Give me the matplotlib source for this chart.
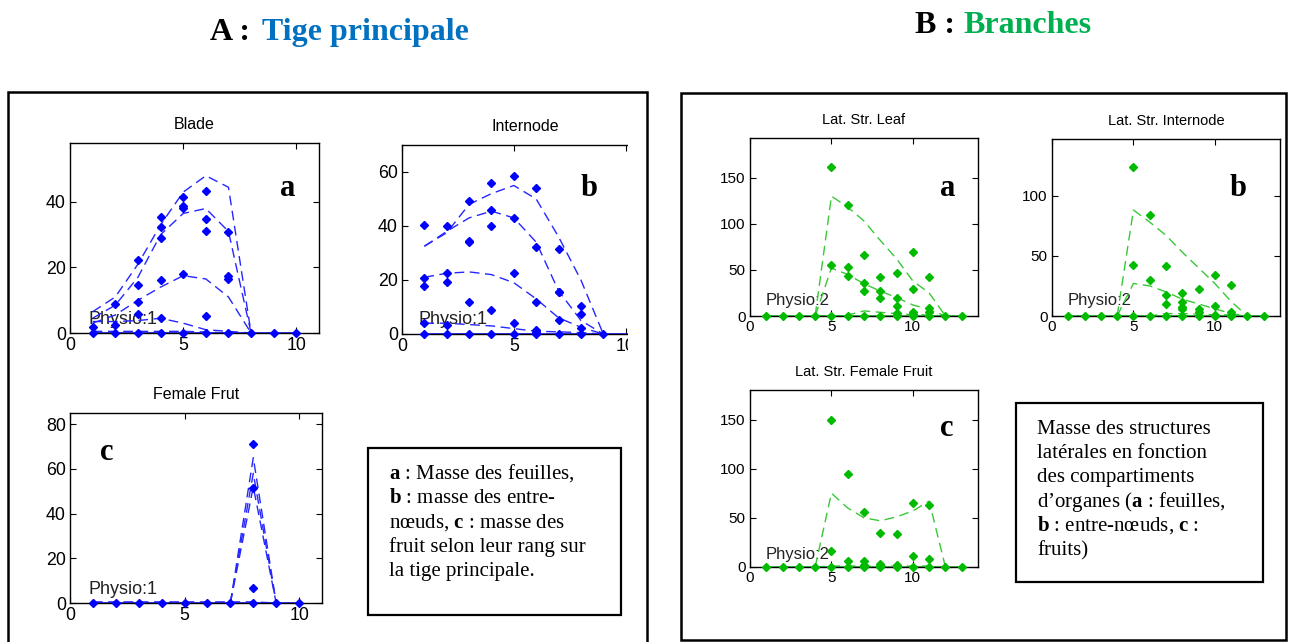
import matplotlib
matplotlib.use("Agg")
import matplotlib.pyplot as plt
from matplotlib.patches import Rectangle

plt.rcParams["font.family"] = ["Liberation Sans", "DejaVu Sans"]
plt.rcParams["mathtext.fontset"] = "custom"
plt.rcParams["mathtext.rm"] = "Liberation Serif"
plt.rcParams["mathtext.bf"] = "Liberation Serif:bold"

# ---- A : main stem (observed masses per rank, fitted curves) ----
blade_obs = [[1.8, 0], [9, 2.5, 0], [22.4, 14.6, 9.4, 5.9, 0], [35.3, 32.4, 29, 16.3, 4.7, 0],
             [41.4, 38.7, 38.2, 18, 0], [43.5, 34.8, 31, 5.1, 0], [30.7, 17.3, 16.6, 0],
             [0], [0], [0]]
blade_fit_ranks = [1, 2, 3, 4, 5, 6, 7, 8]
blade_fit = [[6.5, 11, 21, 33, 43, 48, 44.5, 0],
             [4.5, 8.5, 17, 30, 36.5, 38, 31, 0],
             [3, 5.5, 10, 14, 17.5, 16.5, 11, 0],
             [3.5, 3.5, 3.8, 4.5, 3, 1, 0.5, 0],
             [0.5, 0.5, 0.5, 0.5, 0.5, 0.3, 0, 0]]

inter_obs = [[40.5, 20.7, 17.6, 4, 0], [40.1, 22.5, 19.1, 3.3, 0], [49.2, 34.6, 34, 11.9, 0],
             [55.8, 45.8, 40.1, 8.9, 0], [58.7, 43.1, 22.5, 4, 0], [54.1, 32.2, 12, 1.5, 0.9, 0],
             [31.5, 15.7, 15.4, 5, 0], [10.4, 7.4, 2.1, 0], [0]]
inter_fit_ranks = [1, 2, 3, 4, 5, 6, 7, 8, 9]
inter_fit = [[32.5, 37.5, 48, 52, 55, 50, 36, 20, 0],
             [32.5, 38, 43, 45.5, 43, 34, 16, 5, 0],
             [21, 22.5, 23, 22, 19, 13, 6, 2.5, 0],
             [4, 4, 3.5, 3, 2, 1, 0.8, 0.5, 0]]

fruit_obs = [[0], [0], [0], [0], [0], [0], [0], [71, 51.5, 6.5, 0], [0], [0]]
fruit_fit_ranks = [1, 2, 3, 4, 5, 6, 7, 8, 9]
fruit_fit = [[0, 0, 0, 0, 0, 0, 0, 65, 0],
             [0, 0, 0, 0, 0, 0, 0, 58, 0],
             [0, 0, 0, 0, 0, 0, 0, 52, 0],
             [0.5, 0.5, 0.5, 0.5, 0.5, 0.5, 0.5, 0.5, 0]]

# ---- B : branches ----
lleaf_obs = [[0], [0], [0], [0], [161.6, 54.8, 0], [119.9, 52.7, 43.9, 0], [66.5, 36.3, 27.6, 0],
             [41.8, 27.2, 19.3, 0], [46.5, 19.3, 10.9, 3.6, 1, 0], [69, 29.4, 4.7, 2, 0],
             [41.8, 8.4, 4.7, 0], [0], [0]]
lleaf_fit_ranks = [4, 5, 6, 7, 8, 9, 10, 11, 12]
lleaf_fit = [[0, 130, 118, 103, 82, 62, 38, 25, 0],
             [0, 52, 45, 35, 27, 20, 12, 7, 0],
             [0, 0, 1, 5.5, 4, 2.5, 1.5, 1, 0]]

linter_obs = [[0], [0], [0], [0], [123.6, 42.5, 0], [83.6, 30, 0], [41.7, 17.5, 9.7, 0],
              [19.4, 11.9, 7.8, 5.6, 0], [22.5, 5.8, 3.6, 0], [34.2, 8.6, 1, 0],
              [25.8, 3, 1, 0], [0], [0]]
linter_fit_ranks = [4, 5, 6, 7, 8, 9, 10, 11, 12]
linter_fit = [[0, 88, 78, 67, 53, 40, 27, 12, 0],
              [0, 27, 25, 20, 14, 10, 6, 2, 0],
              [0, 0, 0, 2, 2, 1.5, 1, 1, 0]]

lfruit_obs = [[0], [0], [0], [0], [150, 16.6, 0], [94.6, 5.7, 0], [56.4, 5.7, 2, 0],
              [34.5, 3, 1.5, 0], [33.4, 1.7, 0], [65.5, 11.5, 0], [63.2, 7.8, 0], [0], [0]]
lfruit_fit_ranks = [4, 5, 6, 7, 8, 9, 10, 11, 12]
lfruit_fit = [[0, 75, 60, 50, 47, 51, 57, 67, 0],
              [0, 1, 1, 1, 1, 1, 1, 1, 0]]

W, H = 1289, 642
fig = plt.figure(figsize=(W / 100, H / 100), dpi=100)

BLUE_PT, BLUE_LN = "#0000FF", "#2626FF"
GREEN_PT, GREEN_LN = "#00BB00", "#38C838"


def fx(x):
    return x / W


def fy(y):
    return 1 - y / H


def panel(box, title, obs, ranks, fits, zero_end, xlim, ylim, yticks,
          pt_col, ln_col, physio, physio_xy, fs, title_fs, physio_fs):
    l, t, r, b = box
    ax = fig.add_axes([fx(l), fy(b), (r - l) / W, (b - t) / H])
    for vals in fits:
        ax.plot(ranks, vals, ls=(0, (7, 4)), lw=1, color=ln_col, zorder=2)
    ax.plot(range(1, zero_end + 1), [0] * zero_end, "-", lw=1.3, color=ln_col,
            clip_on=False, zorder=2)
    for rank, masses in enumerate(obs, start=1):
        ax.plot([rank] * len(masses), masses, "D", ms=3.8, color=pt_col,
                clip_on=False, zorder=3)
    ax.set_xlim(*xlim)
    ax.set_ylim(*ylim)
    ax.set_xticks([0, 5, 10])
    ax.set_yticks(yticks)
    ax.tick_params(direction="in", top=True, right=True, length=4,
                   labelsize=fs, pad=3)
    for s in ax.spines.values():
        s.set_linewidth(1)
    ax.set_title(title, fontsize=title_fs, pad=10)
    ax.text(fx(physio_xy[0]), fy(physio_xy[1]), physio, transform=fig.transFigure,
            fontsize=physio_fs, color="#222222", va="center", ha="left", zorder=1)
    return ax


panel((70, 143, 319, 333), "Blade", blade_obs, blade_fit_ranks, blade_fit, 10,
      (0, 11), (0, 58), [0, 20, 40], BLUE_PT, BLUE_LN, "Physio:1", (88, 319), 12.8, 11.5, 13)
panel((402, 145, 648, 334), "Internode", inter_obs, inter_fit_ranks, inter_fit, 11,
      (0, 11), (0, 70), [0, 20, 40, 60], BLUE_PT, BLUE_LN, "Physio:1", (419, 319), 12.8, 11.5, 13)
panel((70, 413, 322, 603), "Female Frut", fruit_obs, fruit_fit_ranks, fruit_fit, 10,
      (0, 11), (0, 85), [0, 20, 40, 60, 80], BLUE_PT, BLUE_LN, "Physio:1", (88, 589), 12.8, 11.5, 13)

panel((750, 138, 978, 316), "Lat. Str. Leaf", lleaf_obs, lleaf_fit_ranks, lleaf_fit, 13,
      (0, 14), (0, 193), [0, 50, 100, 150], GREEN_PT, GREEN_LN, "Physio:2", (766, 301), 11, 10.5, 12)
panel((1052, 139, 1280, 316), "Lat. Str. Internode", linter_obs, linter_fit_ranks, linter_fit, 13,
      (0, 14), (0, 147), [0, 50, 100], GREEN_PT, GREEN_LN, "Physio:2", (1068, 301), 11, 10.5, 12)
panel((750, 390, 978, 567), "Lat. Str. Female Fruit", lfruit_obs, lfruit_fit_ranks, lfruit_fit, 13,
      (0, 14), (0, 180), [0, 50, 100, 150], GREEN_PT, GREEN_LN, "Physio:2", (766, 554), 11, 10.5, 12)

# the internode panel is cut off at the right in the source image
fig.add_artist(Rectangle((fx(628), fy(352)), (656 - 628) / W, 230 / H,
                         transform=fig.transFigure, facecolor="white",
                         edgecolor="none", zorder=5))

# outer frames
fig.add_artist(Rectangle((fx(8), fy(660)), (647 - 8) / W, (660 - 92) / H,
                         transform=fig.transFigure, fill=False, lw=1.8,
                         edgecolor="black", zorder=6, clip_on=False))
fig.add_artist(Rectangle((fx(681), fy(640)), (1286 - 681) / W, (640 - 93) / H,
                         transform=fig.transFigure, fill=False, lw=1.8,
                         edgecolor="black", zorder=6))

# panel letters
serif = ["Liberation Serif", "DejaVu Serif"]
for x, y, s in [(288, 188, "a"), (589, 188, "b"), (107, 452, "c"),
                (948, 188, "a"), (1238, 188, "b"), (947, 428, "c")]:
    fig.text(fx(x), fy(y), s, family=serif, fontsize=22, fontweight="bold",
             ha="center", va="center", zorder=7)

# headings
fig.text(fx(210), fy(40), "A : ", family=serif, fontsize=23, fontweight="bold",
         va="baseline")
fig.text(fx(262), fy(40), "Tige principale", family=serif, fontsize=23,
         fontweight="bold", color="#0070C0", va="baseline")
fig.text(fx(915), fy(33), "B : ", family=serif, fontsize=23, fontweight="bold",
         va="baseline")
fig.text(fx(963), fy(33), "Branches", family=serif, fontsize=23,
         fontweight="bold", color="#00B050", va="baseline")

# caption boxes
left_box_lines = [r"$\mathbf{a}$ : Masse des feuilles,",
                  r"$\mathbf{b}$ : masse des entre-",
                  r"nœuds, $\mathbf{c}$ : masse des",
                  "fruit selon leur rang sur",
                  "la tige principale."]
right_box_lines = ["Masse des structures",
                   "latérales en fonction",
                   "des compartiments",
                   r"d’organes ($\mathbf{a}$ : feuilles,",
                   r"$\mathbf{b}$ : entre-nœuds, $\mathbf{c}$ :",
                   "fruits)"]

fig.add_artist(Rectangle((fx(368), fy(615)), (621 - 368) / W, (615 - 448) / H,
                         transform=fig.transFigure, fill=False, lw=1.6,
                         edgecolor="black", zorder=6))
fig.add_artist(Rectangle((fx(1016), fy(582)), (1263 - 1016) / W, (582 - 403) / H,
                         transform=fig.transFigure, fill=False, lw=1.6,
                         edgecolor="black", zorder=6))
for i, line in enumerate(left_box_lines):
    fig.text(fx(389), fy(479 + 24.3 * i), line, family=serif, fontsize=15,
             va="baseline", ha="left")
for i, line in enumerate(right_box_lines):
    fig.text(fx(1037), fy(434 + 24.2 * i), line, family=serif, fontsize=15,
             va="baseline", ha="left")

fig.savefig("out.png", dpi=100)
